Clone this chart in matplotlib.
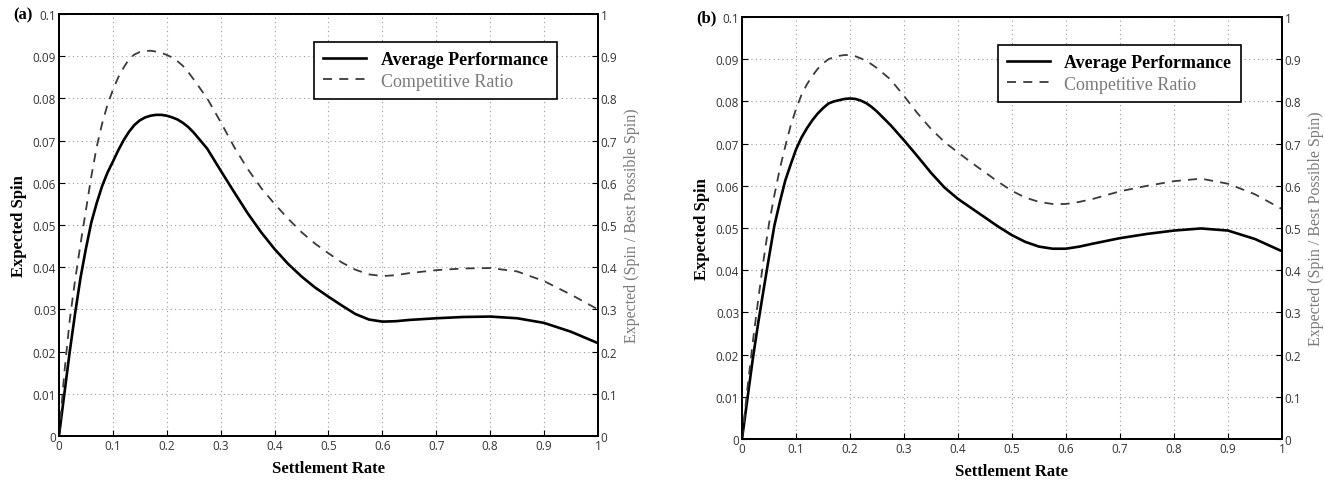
import numpy as np
import matplotlib.pyplot as plt

# settlement rate grid shared by all curves
rate = [0, 0.01, 0.02, 0.03, 0.04, 0.05, 0.06, 0.07, 0.08, 0.09, 0.1, 0.11, 0.12, 0.13,
        0.14, 0.15, 0.16, 0.17, 0.18, 0.19, 0.2, 0.21, 0.22, 0.23, 0.24, 0.25,
        0.275, 0.3, 0.325, 0.35, 0.375, 0.4, 0.425, 0.45, 0.475, 0.5, 0.525, 0.55,
        0.575, 0.6, 0.625, 0.65, 0.7, 0.75, 0.8, 0.85, 0.9, 0.95, 1.0]

# panel (a)
avg_a = [0, 0.0100, 0.0200, 0.0291, 0.0375, 0.0444, 0.0506, 0.0552, 0.0592, 0.0624,
         0.0650, 0.0677, 0.0701, 0.0721, 0.0737, 0.0748, 0.0755, 0.0759, 0.0761, 0.0761,
         0.0759, 0.0755, 0.0750, 0.0742, 0.0732, 0.0719,
         0.0681, 0.0629, 0.0578, 0.0528, 0.0483, 0.0443, 0.0408, 0.0378, 0.0352, 0.0330,
         0.0309, 0.0289, 0.0276, 0.0271, 0.0272, 0.0275,
         0.0279, 0.0282, 0.0283, 0.0279, 0.0268, 0.0247, 0.0220]
ratio_a = [0, 0.15, 0.275, 0.37, 0.455, 0.535, 0.615, 0.685, 0.74, 0.785, 0.82, 0.85,
           0.873, 0.893, 0.904, 0.91, 0.912, 0.913, 0.911, 0.908, 0.903, 0.897, 0.888,
           0.877, 0.862, 0.845,
           0.80, 0.744, 0.685, 0.633, 0.588, 0.55, 0.515, 0.483, 0.456, 0.433, 0.411,
           0.394, 0.383, 0.379, 0.381, 0.386,
           0.393, 0.397, 0.398, 0.39, 0.367, 0.335, 0.30]

# panel (b)
avg_b = [0, 0.0095, 0.019, 0.0275, 0.0354, 0.0431, 0.0506, 0.0561, 0.0612, 0.0650,
         0.0686, 0.0714, 0.0736, 0.0755, 0.0771, 0.0784, 0.0795, 0.0800, 0.0803, 0.0806,
         0.0807, 0.0806, 0.0802, 0.0796, 0.0787, 0.0776,
         0.0744, 0.0708, 0.0670, 0.0631, 0.0596, 0.0569, 0.0547, 0.0525, 0.0503, 0.0483,
         0.0467, 0.0456, 0.0451, 0.0451, 0.0456, 0.0463,
         0.0476, 0.0486, 0.0494, 0.0499, 0.0494, 0.0474, 0.0445]
ratio_b = [0, 0.12, 0.23, 0.33, 0.425, 0.51, 0.578, 0.64, 0.693, 0.742, 0.782, 0.815,
           0.84, 0.86, 0.877, 0.89, 0.9, 0.905, 0.908, 0.91, 0.91, 0.907, 0.902, 0.896,
           0.888, 0.879,
           0.852, 0.813, 0.772, 0.735, 0.704, 0.679, 0.655, 0.632, 0.609, 0.588, 0.572,
           0.562, 0.557, 0.557, 0.562, 0.569,
           0.587, 0.600, 0.611, 0.617, 0.605, 0.58, 0.545]

x_ticks = np.round(np.arange(0, 1.01, 0.1), 1)
left_ticks = np.round(np.arange(0, 0.101, 0.01), 2)
right_ticks = np.round(np.arange(0, 1.01, 0.1), 1)

serif = 'Liberation Serif'
tick_font = 'Open Sans'
gray = '#7a7a7a'


def draw_panel(fig, rect, avg, ratio, tag):
    ax = fig.add_axes(rect)
    ax2 = ax.twinx()
    l1, = ax.plot(rate, avg, color='black', lw=1.9)
    l2, = ax2.plot(rate, ratio, color='#3a3a3a', lw=1.3, ls=(0, (5, 4)))
    ax.set_xlim(0, 1)
    ax.set_ylim(0, 0.1)
    ax2.set_ylim(0, 1)
    ax.set_xticks(x_ticks)
    ax.set_xticklabels([f'{v:g}' for v in x_ticks])
    ax.set_yticks(left_ticks)
    ax.set_yticklabels([f'{v:g}' for v in left_ticks])
    ax2.set_yticks(right_ticks)
    ax2.set_yticklabels([f'{v:g}' for v in right_ticks])
    ax.grid(True, ls=(0, (1, 3)), color='#9a9a9a', lw=0.8)
    for a in (ax, ax2):
        a.tick_params(direction='in', length=4, width=0.8, labelsize=8.5,
                      labelcolor='#333333', pad=2)
        for lab in a.get_xticklabels() + a.get_yticklabels():
            lab.set_family(tick_font)
        for sp in a.spines.values():
            sp.set_linewidth(1.3)
    ax.set_xlabel('Settlement Rate', family=serif, fontweight='bold', fontsize=12,
                  labelpad=6)
    ax.set_ylabel('Expected Spin', family=serif, fontweight='bold', fontsize=12,
                  labelpad=4)
    ax2.set_ylabel('Expected (Spin / Best Possible Spin)', family=serif, fontsize=11.5,
                   color=gray, labelpad=5)
    leg = ax.legend([l1, l2], ['Average Performance', 'Competitive Ratio'],
                    loc='upper right', bbox_to_anchor=(0.94, 0.955),
                    prop={'family': serif, 'size': 13}, fancybox=False,
                    edgecolor='black', framealpha=1, handlelength=2.4,
                    borderpad=0.5, labelspacing=0.25)
    leg.get_frame().set_linewidth(1.2)
    texts = leg.get_texts()
    texts[0].set_fontweight('bold')
    texts[1].set_color(gray)
    ax.text(-0.085, 1.0, tag, transform=ax.transAxes, family=serif,
            fontweight='bold', fontsize=12, ha='left', va='center')
    return ax


fig = plt.figure(figsize=(13.25, 4.81), dpi=100)
draw_panel(fig, [0.0445, 0.0915, 0.4068, 0.8773], avg_a, ratio_a, '(a)')
draw_panel(fig, [0.560, 0.0852, 0.4075, 0.8773], avg_b, ratio_b, '(b)')
fig.savefig('out.png', dpi=100)
